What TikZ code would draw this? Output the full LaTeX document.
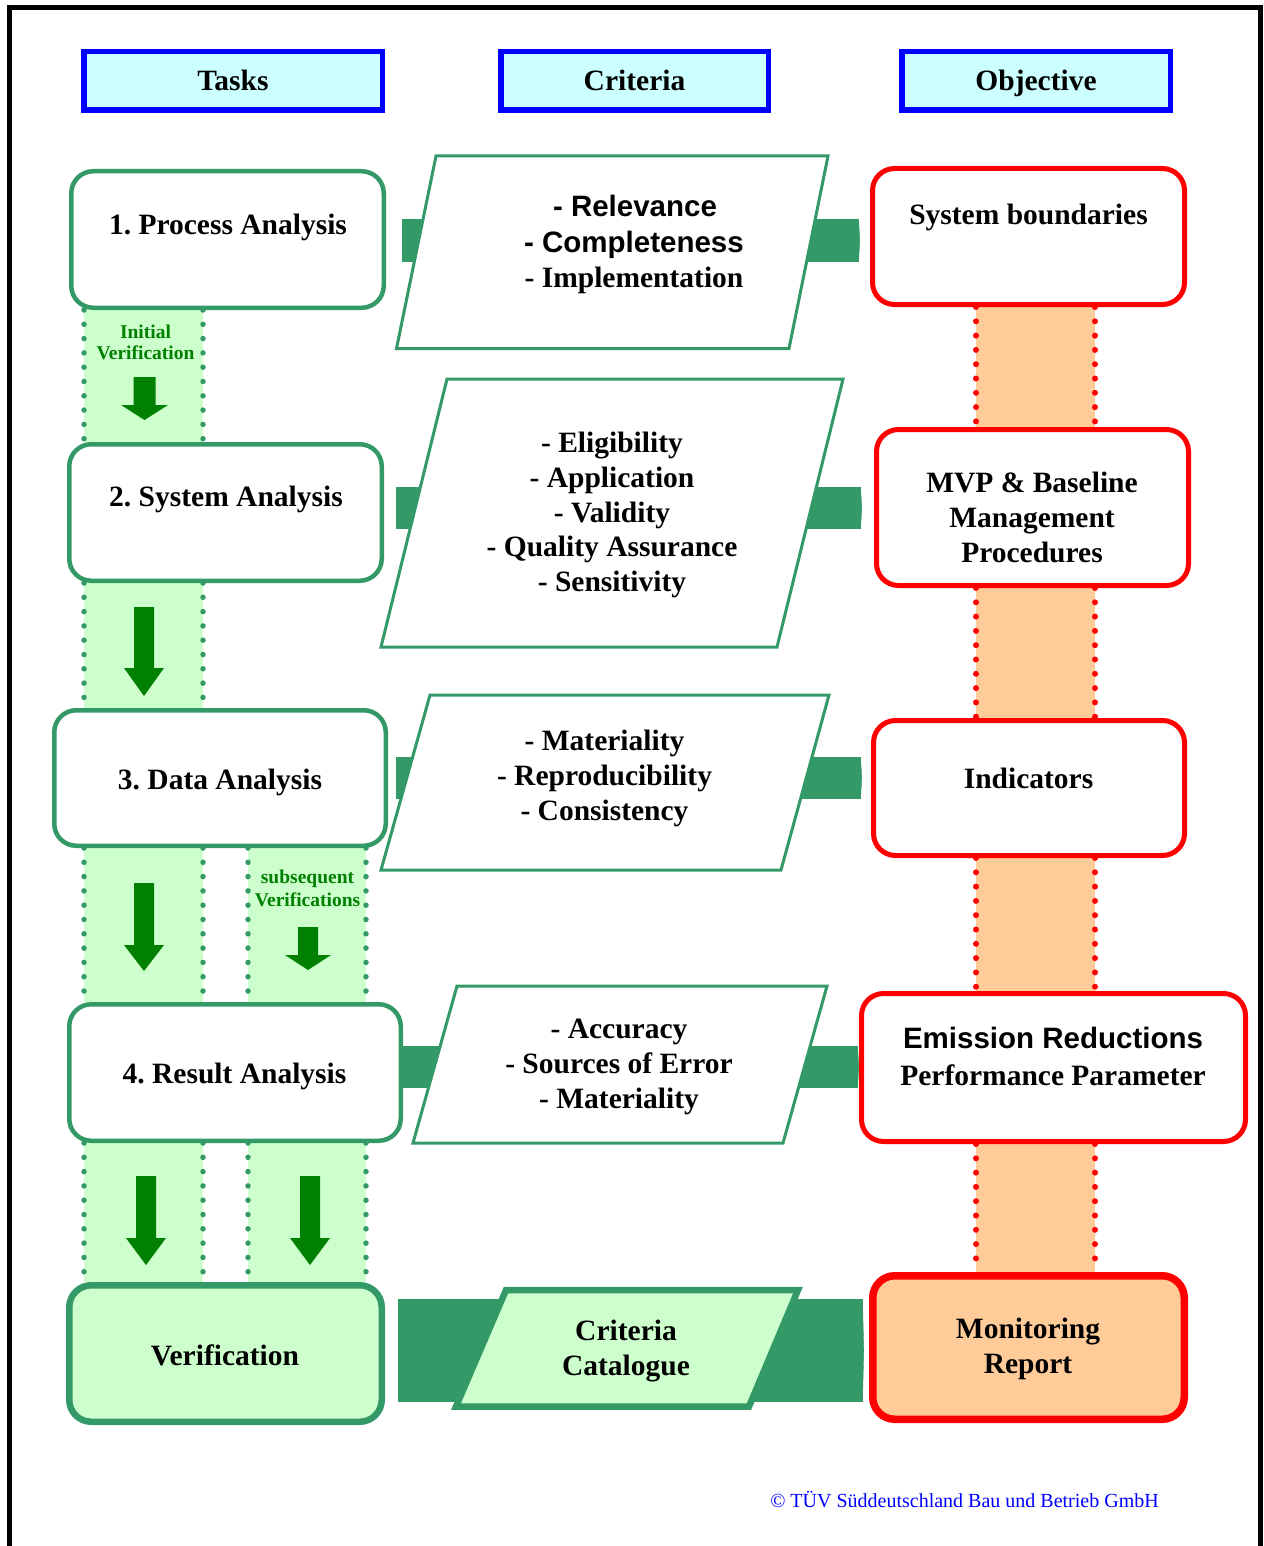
\documentclass[tikz,border=0pt]{standalone}
\usepackage{fontspec}
\setmainfont{Liberation Serif}
\newfontfamily\arialf{Liberation Sans}
\usetikzlibrary{arrows.meta}
\frenchspacing
\definecolor{sgreen}{HTML}{339966}
\definecolor{lgreen}{HTML}{CCFFCC}
\definecolor{dgreen}{HTML}{008000}
\definecolor{lcyan}{HTML}{CCFFFF}
\definecolor{ored}{HTML}{FF0000}
\definecolor{lorange}{HTML}{FFCC99}
\newcommand{\vgarrow}[6]{\fill[dgreen] (#1-#5,#2) -- (#1+#5,#2) -- (#1+#5,#3) -- (#1+#6,#3) -- (#1,#4) -- (#1-#6,#3) -- (#1-#5,#3) -- cycle;}
\tikzset{
 hdr/.style={draw=blue, fill=lcyan, line width=5.5pt, minimum height=58.5pt, inner sep=0pt},
 taskbox/.style={draw=sgreen, fill=white, line width=4.5pt, rounded corners=22pt, inner sep=0pt},
 objbox/.style={draw=ored, fill=white, line width=5pt, rounded corners=22pt, inner sep=0pt},
 txt/.style={font=\fontsize{29.5}{35}\selectfont\bfseries\frenchspacing, inner sep=0pt, anchor=base},
 atxt/.style={font=\fontsize{29.5}{35}\selectfont\arialf\bfseries, inner sep=0pt, anchor=base},
 vtxt/.style={font=\fontsize{19.5}{22}\selectfont\bfseries, text=dgreen, inner sep=0pt, anchor=base},
 conn/.style 2 args={draw=sgreen, line width=#1, line cap=butt, -{Triangle[length=1.5pt,width=#2]}},
 crit/.style={draw=sgreen, fill=white, line width=3pt, line join=miter},
 gband/.style={fill=lgreen},
 rband/.style={fill=lorange},
 gdots/.style={draw=sgreen, line width=5.5pt, line cap=round, dash pattern=on 0pt off 14.3pt},
 rdots/.style={draw=ored, line width=6pt, line cap=round, dash pattern=on 0pt off 14.3pt},
}
\begin{document}
\begin{tikzpicture}[x=1pt,y=-1pt]
\useasboundingbox (0,0) rectangle (1263,1546);
% frame
\draw[line width=5pt] (9.5,1546) -- (9.5,7.5) -- (1260,7.5) -- (1260,1546);

% green verification bands
\fill[gband] (84,310) rectangle (203,442);
\draw[gdots] (84,310) -- (84,442); \draw[gdots] (203,310) -- (203,442);
\fill[gband] (84,583) rectangle (203,708);
\draw[gdots] (84,583) -- (84,708); \draw[gdots] (203,583) -- (203,708);
\fill[gband] (84,848) rectangle (203,1002);
\draw[gdots] (84,848) -- (84,1002); \draw[gdots] (203,848) -- (203,1002);
\fill[gband] (248,848) rectangle (366,1002);
\draw[gdots] (248,848) -- (248,1002); \draw[gdots] (366,848) -- (366,1002);
\fill[gband] (84,1143) rectangle (203,1282);
\draw[gdots] (84,1143) -- (84,1282); \draw[gdots] (203,1143) -- (203,1282);
\fill[gband] (248,1143) rectangle (366,1282);
\draw[gdots] (248,1143) -- (248,1282); \draw[gdots] (366,1143) -- (366,1282);

% orange bands
\fill[rband] (976,307) rectangle (1095,427);
\draw[rdots] (976,307) -- (976,427); \draw[rdots] (1095,307) -- (1095,427);
\fill[rband] (976,588) rectangle (1095,718);
\draw[rdots] (976,588) -- (976,718); \draw[rdots] (1095,588) -- (1095,718);
\fill[rband] (976,858) rectangle (1095,991);
\draw[rdots] (976,858) -- (976,991); \draw[rdots] (1095,858) -- (1095,991);
\fill[rband] (976,1144) rectangle (1095,1272);
\draw[rdots] (976,1144) -- (976,1272); \draw[rdots] (1095,1144) -- (1095,1272);

% block arrows
\vgarrow{144.5}{377}{405}{420}{11}{23.5}
\vgarrow{144}{607}{668}{696}{10}{20}
\vgarrow{144}{883}{945}{971}{10}{20}
\vgarrow{308}{927}{955}{970}{10}{23}
\vgarrow{146}{1176}{1238}{1265}{10}{20}
\vgarrow{310}{1176}{1238}{1265}{10}{20}

% headers
\node[hdr, minimum width=298.5pt] (hT) at (233,81) {};
\node[hdr, minimum width=267.5pt] (hC) at (634.5,81) {};
\node[hdr, minimum width=268.5pt] (hO) at (1036,81) {};

% task boxes
\node[taskbox, minimum width=312.5pt, minimum height=136.5pt] (t1) at (227.5,239.5) {};
\node[taskbox, minimum width=312.5pt, minimum height=136.5pt] (t2) at (225.5,512.5) {};
\node[taskbox, minimum width=331.5pt, minimum height=135.5pt] (t3) at (220,778) {};
\node[taskbox, minimum width=331.5pt, minimum height=136.5pt] (t4) at (235,1072.5) {};
\node[taskbox, fill=lgreen, line width=6.5pt, minimum width=312.5pt, minimum height=136.5pt] (tv) at (225.5,1353.5) {};

% objective boxes
\node[objbox, minimum width=312pt, minimum height=136pt] (o1) at (1028.5,236.5) {};
\node[objbox, minimum width=312pt, minimum height=156pt] (o2) at (1032.5,507.5) {};
\node[objbox, minimum width=311pt, minimum height=135pt] (o3) at (1029,788) {};
\node[objbox, minimum width=384pt, minimum height=148pt] (o4) at (1053.5,1067.5) {};
\node[objbox, fill=lorange, line width=7.5pt, minimum width=311.5pt, minimum height=143.5pt] (o5) at (1028.5,1347.5) {};

% row coordinates
\coordinate (r1) at (630,240.5);
\coordinate (r2) at (630,508);
\coordinate (r3) at (630,778);
\coordinate (r4) at (630,1067);
\coordinate (r5) at (630,1350.5);

% connectors
\draw[conn={43pt}{49pt}, shorten <=16pt, shorten >=10pt] (t1.east |- r1) -- (o1.west |- r1);
\draw[conn={42pt}{48pt}, shorten <=12pt, shorten >=12pt] (t2.east |- r2) -- (o2.west |- r2);
\draw[conn={42pt}{48pt}, shorten <=8pt, shorten >=9pt] (t3.east |- r3) -- (o3.west |- r3);
\draw[conn={42pt}{48pt}] (t4.east |- r4) -- (o4.west |- r4);
\draw[conn={103pt}{109pt}, shorten <=13pt, shorten >=5pt] (tv.east |- r5) -- (o5.west |- r5);

% criteria parallelograms
\draw[crit] (436,156) -- (828,156) -- (789,348.5) -- (396.5,348.5) -- cycle;
\draw[crit] (447,379) -- (843,379) -- (777,647) -- (381,647) -- cycle;
\draw[crit] (430,695) -- (829,695) -- (781,870) -- (381,870) -- cycle;
\draw[crit] (457,986) -- (827,986) -- (783,1143) -- (413,1143) -- cycle;
\draw[crit, fill=lgreen, line width=6.5pt] (506,1290) -- (798,1290) -- (749,1406.5) -- (456,1406.5) -- cycle;

% header texts
\node[txt] (hTl) at (233,91) {Tasks};
\node[txt] (hCl) at (634.5,91) {Criteria};
\node[txt] (hOl) at (1036,91) {Objective};

% task texts
\node[txt] (t1l) at (228,235) {1. Process Analysis};
\node[txt] (t2l) at (226,506) {2. System Analysis};
\node[txt] (t3l) at (220,789) {3. Data Analysis};
\node[txt] (t4l) at (234.5,1083) {4. Result Analysis};
\node[txt] (tvl) at (225,1365) {Verification};

% verification labels
\node[vtxt] (iv1) at (145.5,338) {Initial};
\node[vtxt] (iv2) at (145.5,359) {Verification};
\node[vtxt] (sv1) at (307.5,883) {subsequent};
\node[vtxt] (sv2) at (307.5,906) {Verifications};

% criteria texts
\node[atxt] (c1a) at (635,217) {- Relevance};
\node[atxt] (c1b) at (634,252) {- Completeness};
\node[txt] (c1c) at (634,287) {- Implementation};
\node[txt] (c2a) at (612,452) {- Eligibility};
\node[txt] (c2b) at (612,487) {- Application};
\node[txt] (c2c) at (612,522) {- Validity};
\node[txt] (c2d) at (612,556) {- Quality Assurance};
\node[txt] (c2e) at (612,591) {- Sensitivity};
\node[txt] (c3a) at (604.5,750) {- Materiality};
\node[txt] (c3b) at (604.5,785) {- Reproducibility};
\node[txt] (c3c) at (604.5,820) {- Consistency};
\node[txt] (c4a) at (619,1038) {- Accuracy};
\node[txt] (c4b) at (619,1073) {- Sources of Error};
\node[txt] (c4c) at (619,1108) {- Materiality};
\node[txt] (c5a) at (626,1340) {Criteria};
\node[txt] (c5b) at (626,1375) {Catalogue};

% objective texts
\node[txt] (o1l) at (1028.5,225) {System boundaries};
\node[txt] (o2a) at (1032,492) {MVP \& Baseline};
\node[txt] (o2b) at (1032,527) {Management};
\node[txt] (o2c) at (1032,562) {Procedures};
\node[txt] (o3l) at (1028.5,788) {Indicators};
\node[atxt] (o4a) at (1053,1048) {Emission Reductions};
\node[txt] (o4b) at (1053,1085) {Performance Parameter};
\node[txt] (o5a) at (1028,1338) {Monitoring};
\node[txt] (o5b) at (1028,1373) {Report};

% copyright
\node[font=\fontsize{20}{24}\selectfont, text=blue, inner sep=0pt, anchor=base] (copy) at (964.5,1507) {© TÜV Süddeutschland Bau und Betrieb GmbH};
\end{tikzpicture}
\end{document}
